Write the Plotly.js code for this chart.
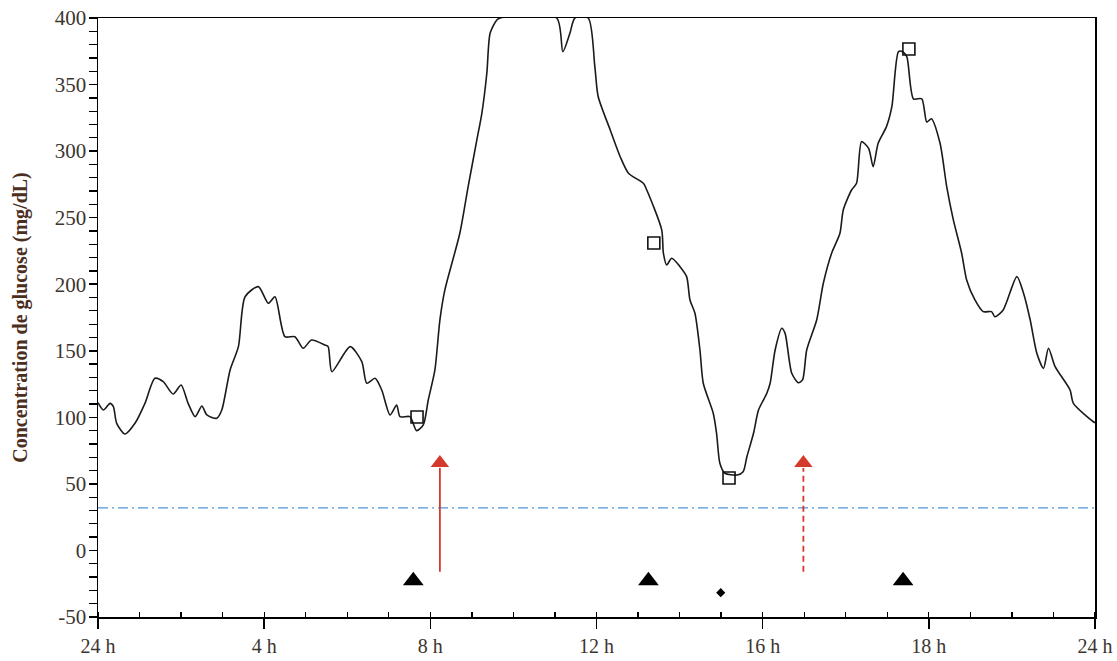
<!DOCTYPE html>
<html>
<head>
<meta charset="utf-8">
<script src="https://cdn.plot.ly/plotly-3.0.1.min.js"></script>
<style>html,body{margin:0;padding:0;background:#fff;}#chart{width:1117px;height:661px;}</style>
</head>
<body>
<div id="chart"></div>
<script>
// Glucose trace (hours since midnight, mg/dL)
const hours = [0,0.13,0.29,0.37,0.45,0.65,0.89,1.13,1.37,1.57,1.81,2.0,2.17,2.34,2.50,2.62,2.86,2.98,3.18,3.38,3.54,3.86,4.10,4.26,4.50,4.74,4.94,5.14,5.46,5.54,5.63,6.07,6.35,6.47,6.67,6.83,7.03,7.19,7.27,7.51,7.67,7.83,7.95,8.11,8.23,8.35,8.71,8.91,9.12,9.24,9.36,9.44,9.60,9.68,11.04,11.19,11.36,11.48,11.80,11.96,12.04,12.33,12.57,12.77,13.13,13.21,13.57,13.61,13.69,13.81,14.01,14.17,14.25,14.37,14.49,14.57,14.81,14.89,14.97,15.09,15.38,15.53,15.62,15.78,15.90,16.10,16.18,16.30,16.46,16.54,16.70,16.86,16.96,17.06,17.30,17.46,17.66,17.86,17.94,18.14,18.26,18.38,18.55,18.66,18.78,18.98,19.11,19.27,19.37,19.47,19.63,19.83,19.95,20.06,20.27,20.43,20.59,20.79,20.91,21.11,21.31,21.51,21.59,21.79,22.12,22.28,22.44,22.60,22.76,22.88,23.04,23.40,23.48,23.96,24.0];
const glucose = [111,105.5,110.5,108,95.5,87.5,95.5,110.5,129.3,126.8,117.5,124.3,110.5,100.5,108.5,101.8,99.3,105.5,135.6,153.1,190.6,198.2,185.7,190.6,160.6,160.6,151.9,158.1,154.4,153.1,134.3,153.1,141.8,125.6,129.3,120.5,101.8,109.3,100.5,100.5,90,94.3,113,135.6,173.1,195.7,238.3,273.3,308.4,328.4,358.5,388.7,398.5,400,400,374.7,388.5,400,400,363.5,341,315.9,295.8,283.4,275.8,270.8,240.8,223.3,214.5,219.5,213.2,205.7,188.2,178.2,150.6,125.6,103.1,88,65.5,58,56.7,59.2,70.4,88,105.5,118.1,125.6,150.6,166.9,163.1,133.1,126,128.1,150.6,173.1,200.7,223.3,238.3,255.8,270.8,275.8,307.1,302.1,288.3,305.9,318.4,333.4,374.7,374.7,371,339.3,339.3,321.8,324.3,305.9,273.3,248.3,223.3,203.2,188.2,179.4,179.4,175.6,180.7,205.7,193.2,173.1,148.1,136.8,151.9,138.1,120.5,110.5,96.7,96];

// Capillary readings (open squares)
const readingHours = [7.68,13.38,15.19,19.52];
const readingValues = [100.3,231,54.4,376.7];

// Meals (triangles) and snack (diamond)
const mealHours = [7.59,13.25,19.38];
const mealLevel = [-22.7,-22.7,-22.7];
const snackHours = [14.99];
const snackLevel = [-31.7];

// Insulin arrows: solid and dashed
const solidArrowHour = 8.23;
const dashedArrowHour = 16.98;
const arrowFrom = -16;
const arrowTo = 62;
const arrowHeadLevel = 65.7;

// Hypoglycaemia threshold line
const threshold = 32;

// Axis ticks
const xTickVals = [0,4,8,12,16,20,24];
const xTickText = ["24 h","4 h","8 h","12 h","16 h","18 h","24 h"];
const yTickVals = [-50,0,50,100,150,200,250,300,350,400];
const yTickText = ["-50","0","50","100","150","200","250","300","350","400"];

const red = '#d33a2c';
const font = '"Liberation Serif", "Times New Roman", serif';

const traces = [
  {x:[0,24], y:[threshold,threshold], mode:'lines', line:{color:'#4f93d8', width:1.2, dash:'10px,4px,2px,4px'}, hoverinfo:'skip'},
  {x:hours, y:glucose, mode:'lines', line:{color:'#1a1a1a', width:1.6, shape:'spline', smoothing:0.7}},
  {x:[solidArrowHour,solidArrowHour], y:[arrowFrom,arrowTo], mode:'lines', line:{color:red, width:1.8}},
  {x:[dashedArrowHour,dashedArrowHour], y:[arrowFrom,arrowTo], mode:'lines', line:{color:red, width:1.8, dash:'6px,4px'}},
  {x:[solidArrowHour,dashedArrowHour], y:[arrowHeadLevel,arrowHeadLevel], mode:'markers', marker:{symbol:'triangle-up', size:16, color:red}},
  {x:readingHours, y:readingValues, mode:'markers', marker:{symbol:'square-open', size:12, color:'#111', line:{width:1.6, color:'#111'}}},
  {x:mealHours, y:mealLevel, mode:'markers', marker:{symbol:'triangle-up', size:18, color:'#000'}},
  {x:snackHours, y:snackLevel, mode:'markers', marker:{symbol:'diamond', size:7, color:'#000'}}
];

const layout = {
  width:1117, height:661,
  margin:{l:98, r:22, t:18, b:44},
  paper_bgcolor:'#fff', plot_bgcolor:'#fff',
  showlegend:false,
  font:{family:font, size:20, color:'#3d3530'},
  xaxis:{
    range:[0,24], tickvals:xTickVals, ticktext:xTickText,
    showgrid:false, zeroline:false,
    showline:true, linecolor:'#000', linewidth:1.5, mirror:true,
    ticks:'outside', ticklen:10, tickwidth:1.5, tickcolor:'#000',
    minor:{dtick:1, ticks:'inside', ticklen:5, tickwidth:1.3, tickcolor:'#000', showgrid:false},
    tickfont:{family:font, size:20, color:'#3d3530'}
  },
  yaxis:{
    range:[-50,400], tickvals:yTickVals, ticktext:yTickText,
    showgrid:false, zeroline:false,
    showline:true, linecolor:'#000', linewidth:1.5, mirror:true,
    ticks:'outside', ticklen:8, tickwidth:1.5, tickcolor:'#000',
    ticklabelstandoff:-2,
    minor:{dtick:10, ticks:'outside', ticklen:8, tickwidth:1.3, tickcolor:'#000', showgrid:false},
    tickfont:{family:font, size:21, color:'#3d3530'},
    title:{text:'<b>Concentration de glucose (mg/dL)</b>', font:{family:font, size:20, color:'#4b2e1e'}, standoff:22}
  }
};

Plotly.newPlot('chart', traces, layout, {displayModeBar:false, staticPlot:true});
</script>
</body>
</html>
